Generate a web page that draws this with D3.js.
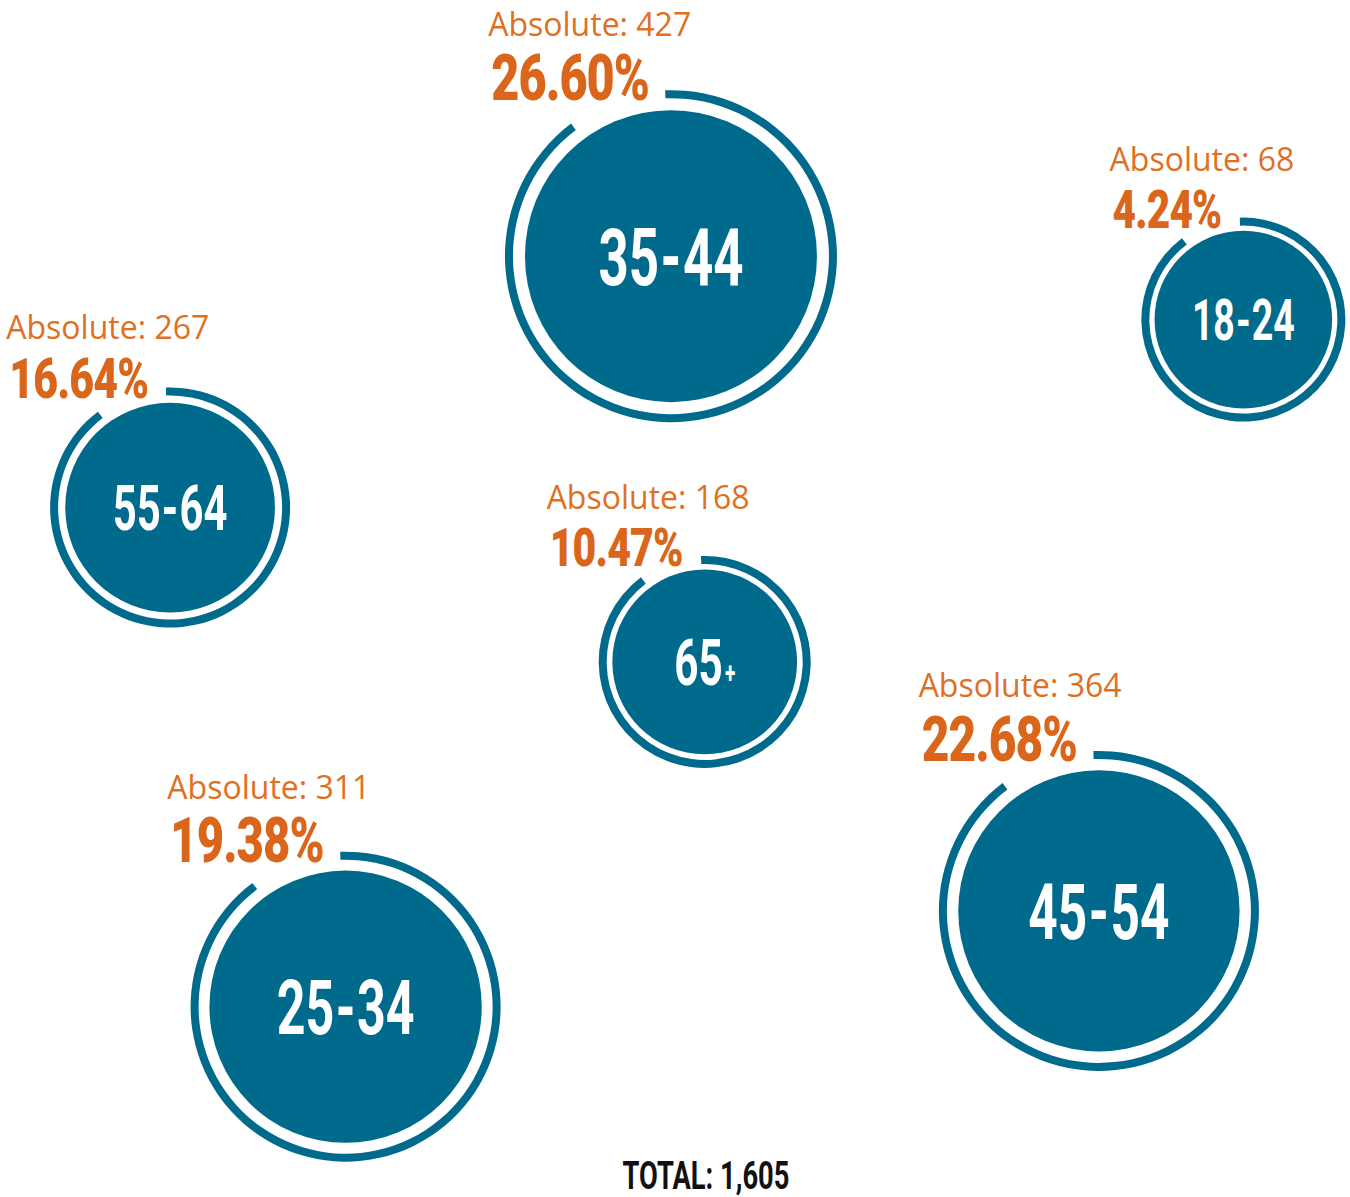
<!DOCTYPE html>
<html>
<head>
    <meta charset="utf-8">
    <script src="https://cdn.jsdelivr.net/npm/d3@7"></script>
</head>
<body style="margin:0;background:#fff;">
<style>
    .ring{ fill:#006a8c; }
    .core{ fill:#006a8c; }
    .pct{ fill:#d9661a; font-family:Roboto; font-weight:900; }
    .abs{ fill:#e0701f; font-family:"Open Sans"; font-weight:400; }
    .age{ fill:#fff; font-family:Roboto; font-weight:700; }
    .total{ fill:#111; font-family:Roboto; font-weight:700; }
</style>
<script>
    var w=1350;
    var h=1197;

    // data
    var ageGroups=["18-24","25-34","35-44","45-54","55-64","65+"];
    var absolute=[68,311,427,364,267,168];
    // where each bubble sits, in percent of the page
    var posX=[92.1,25.6,49.7,81.4,12.6,52.2];
    var posY=[26.7,84.1,21.4,76.1,42.4,55.3];

    var total=d3.sum(absolute);
    var fmtPct=d3.format(".2%"),
        fmtTotal=d3.format(",");

    var svg=d3.select('body').append('svg').attr('width',w).attr('height',h);

    var x=d3.scaleLinear().domain([0,100]).range([0,w]);
    var y=d3.scaleLinear().domain([0,100]).range([0,h]);
    var r=d3.scaleLinear().domain([68,168,267,311,427]).range([102,106,120,155,166]);
    var gapScale=d3.scaleLinear().domain([100,166]).range([5,12]);
    var pctSize=d3.scaleLinear().domain([100,166]).range([53,64]);
    var ageSize=d3.scaleLinear().domain([100,166]).range([56,80]);

    var deg=Math.PI/180;
    var ringW=8;

    var nodes=ageGroups.map(function(d,i){
        return {age:d,value:absolute[i],cx:x(posX[i]),cy:y(posY[i]),r:r(absolute[i])};
    });

    var bubble=svg.selectAll('g.bubble').data(nodes).enter().append('g')
            .attr('class','bubble')
            .attr('transform',function(d){return 'translate('+d.cx+','+d.cy+')'});

    // outer ring with a gap at the top-left for the label
    bubble.append('path')
            .attr('class','ring')
            .attr('d',function(d){
                return d3.arc()
                        .innerRadius(d.r-ringW)
                        .outerRadius(d.r)
                        .startAngle(-2*deg)
                        .endAngle(323*deg)();
            });

    bubble.append('circle')
            .attr('class','core')
            .attr('r',function(d){return d.r-ringW-gapScale(d.r)});

    // age label in the middle
    bubble.append('g')
            .attr('transform','scale(0.66,1)')
            .append('text')
            .attr('class','age')
            .attr('text-anchor','middle')
            .attr('dy','0.36em')
            .style('font-size',function(d){
                var s=ageSize(d.r);
                return (d.age.indexOf('+')>-1 ? s*1.1 : s)+'px';
            })
            .each(function(d){
                var t=d3.select(this);
                if(d.age.indexOf('+')>-1){
                    t.append('tspan').text(d.age.replace('+',''));
                    t.append('tspan').attr('dx','0.12em').attr('dy','-0.06em').style('font-size','0.45em').text('+');
                }else{
                    var p=d.age.split('-');
                    t.append('tspan').text(p[0]);
                    t.append('tspan').attr('dx','0.03em').text('-');
                    t.append('tspan').attr('dx','0.03em').text(p[1]);
                }
            });

    // percent + absolute labels
    bubble.each(function(d){
        var g=d3.select(this);
        var fs=pctSize(d.r);
        var base=-d.r+10;
        var k=0.76;
        var pg=g.append('g').attr('transform','translate(-22,'+base+') scale('+k+',1)');
        var pt=pg.append('text')
                .attr('class','pct')
                .attr('text-anchor','end')
                .attr('letter-spacing','-0.02em')
                .style('font-size',fs+'px')
                .text(fmtPct(d.value/total));
        var bb=pt.node().getBBox();
        var left=-22+bb.x*k;
        g.append('text')
                .attr('class','abs')
                .attr('x',left-3)
                .attr('y',base-fs*0.71-19)
                .style('font-size','32px')
                .text('Absolute: '+d.value);
    });

    svg.append('g')
            .attr('transform','translate(706,1189) scale(0.7,1)')
            .append('text')
            .attr('class','total')
            .attr('text-anchor','middle')
            .style('font-size','39px')
            .text('TOTAL: '+fmtTotal(total));
</script>
</body>
</html>
